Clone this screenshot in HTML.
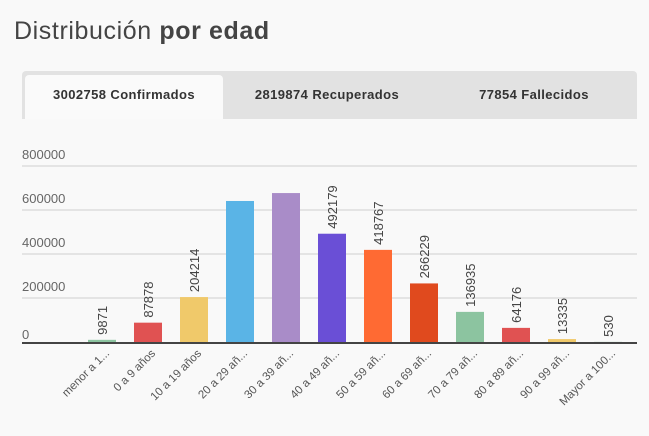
<!DOCTYPE html>
<html><head><meta charset="utf-8"><style>
body{margin:0;width:649px;height:436px;background:#f9f9f9;font-family:"Liberation Sans",sans-serif;overflow:hidden;position:relative}
#title{position:absolute;left:14px;top:17px;font-size:25px;letter-spacing:0.6px;color:#444;margin:0;font-weight:normal}
#tabs{position:absolute;left:22px;top:71px;width:615px;height:48px;background:#e2e2e2;border-radius:4px 4px 0 0}
.tab{position:absolute;top:16px;font-size:13px;font-weight:bold;letter-spacing:0.4px;color:#333;text-align:center}
#active{position:absolute;left:3px;top:4px;width:198px;height:44px;background:#fafafa;border-radius:4px 4px 0 0}
svg{position:absolute;left:0;top:0}
</style></head><body>
<h1 id="title">Distribución <b>por edad</b></h1>
<div id="tabs">
<div id="active"></div>
<div class="tab" style="left:3px;width:198px">3002758 Confirmados</div>
<div class="tab" style="left:210px;width:190px">2819874 Recuperados</div>
<div class="tab" style="left:417px;width:190px">77854 Fallecidos</div>
</div>
<svg id="chart" width="649" height="436"></svg>
<script>
const categories=["menor a 1...","0 a 9 años","10 a 19 años","20 a 29 añ...","30 a 39 añ...","40 a 49 añ...","50 a 59 añ...","60 a 69 añ...","70 a 79 añ...","80 a 89 añ...","90 a 99 añ...","Mayor a 100..."];
const values=[9871,87878,204214,641000,677000,492179,418767,266229,136935,64176,13335,530];
const valueLabels=["9871","87878","204214","","","492179","418767","266229","136935","64176","13335","530"];
const tickValues=[0,200000,400000,600000,800000];
const colors=["#8cc4a0","#e05252","#f0c96a","#5ab4e6","#a98cc8","#6a4fd6","#ff6a33","#e04a1e","#8cc4a0","#e05252","#f0c96a","#8cc4a0"];
const NS="http://www.w3.org/2000/svg";
const svg=document.getElementById('chart');
const x0=22,x1=637,base=342,yTop=166,ymax=800000;
const y=v=>base-(v/ymax)*(base-yTop);
const step=46,first=102,bw=28;
const xc=i=>first+i*step;
function mk(t,a){const e=document.createElementNS(NS,t);for(const k in a)e.setAttribute(k,a[k]);svg.appendChild(e);return e;}
tickValues.forEach(t=>{
 if(t>0){const l=mk('line',{x1:x0,x2:x1,y1:y(t),y2:y(t),stroke:'#dedede','stroke-width':1.5});
 
 }
 const tx=mk('text',{x:x0,y:y(t)-(t>0?7:3),'font-size':13,fill:'#666'});tx.textContent=t;
 
 
});
values.forEach((v,i)=>{
 const r=mk('rect',{x:xc(i)-bw/2,y:y(v),width:bw,height:base-y(v),fill:colors[i]});
 
 
 if(valueLabels[i]){const t=mk('text',{transform:`translate(${xc(i)+5},${y(v)-5}) rotate(-90)`,'font-size':13,fill:'#444'});t.textContent=valueLabels[i];
 
 }
 const c=mk('text',{transform:`translate(${xc(i)+8},${base+12}) rotate(-45)`,'font-size':11.5,fill:'#555','text-anchor':'end'});c.textContent=categories[i];
 
 
});
const ax=mk('line',{x1:x0,x2:x1,y1:base+1,y2:base+1,stroke:'#444','stroke-width':2});


</script>
</body></html>
